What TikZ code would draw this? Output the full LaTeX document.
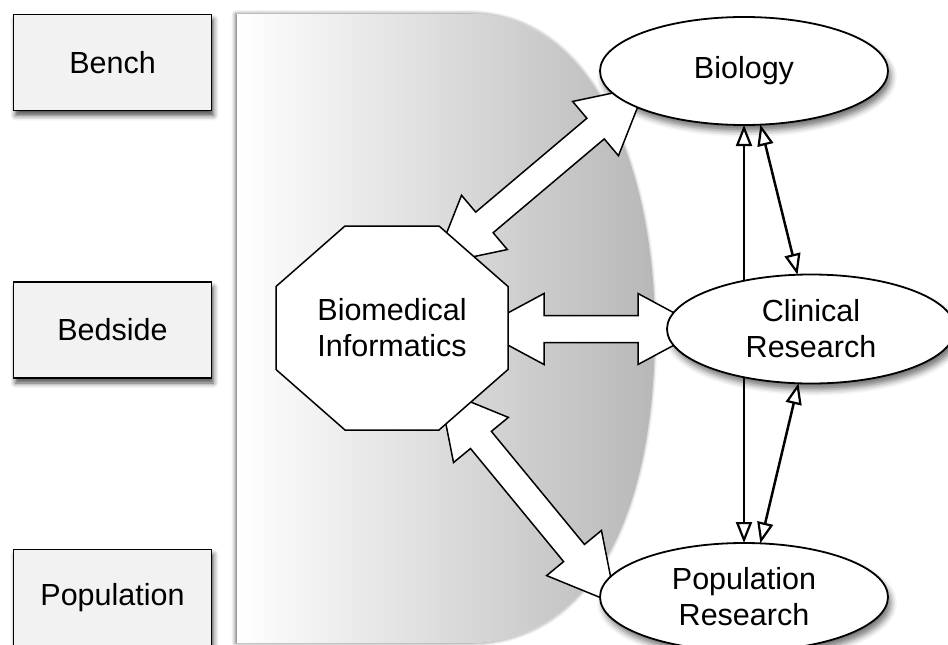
\documentclass[tikz,border=0pt]{standalone}
\usepackage{fontspec}
\setmainfont{Liberation Sans}
\usetikzlibrary{calc,shapes.geometric,arrows.meta,shadows.blur}

\pgfdeclarelayer{shade}
\pgfdeclarelayer{links}
\pgfsetlayers{shade,links,main}

% wide hollow double-headed arrow between two named points
\newcommand\fatarrow[2]{%
  \path let \p1=($(#2)-(#1)$) in
    \pgfextra{%
      \pgfmathsetmacro\fatang{atan2(\y1,\x1)}%
      \pgfmathsetmacro\fatlen{veclen(\x1,\y1)}%
      \xdef\fatang{\fatang}\xdef\fatlen{\fatlen}};
  \draw[bigarrow, shift={(#1)}, rotate=\fatang]
    (0,0) -- (66,35.5) -- (66,13.5) -- (\fatlen-66,13.5) -- (\fatlen-66,35.5)
    -- (\fatlen,0) -- (\fatlen-66,-35.5) -- (\fatlen-66,-13.5) -- (66,-13.5)
    -- (66,-35.5) -- cycle;
}

\tikzset{
  levelbox/.style={draw, line width=1.5pt, fill=black!5, minimum width=198pt,
    minimum height=96pt, inner sep=0pt,
    blur shadow={shadow xshift=2pt, shadow yshift=-5pt, shadow blur radius=5pt, shadow opacity=70}},
  oval/.style={ellipse, draw, line width=1.8pt, fill=white, inner sep=0pt,
    outer sep=0pt, align=center},
  ovalshadow/.style={fill=white,
    blur shadow={shadow xshift=3pt, shadow yshift=-6pt, shadow blur radius=6pt, shadow opacity=55}},
  bigarrow/.style={draw, line width=1.5pt, fill=white, line join=miter},
  openhead/.tip={Triangle[length=21pt, width=16pt, fill=white, line width=2.2pt]},
  thinlink/.style={line width=2.5pt},
  bandshadow/.style={fill=white,
    blur shadow={shadow xshift=-1.5pt, shadow yshift=0pt, shadow blur radius=4pt, shadow opacity=60}},
}

\begin{document}
\begin{tikzpicture}[x=1pt, y=-1pt, font=\fontsize{30.5}{36}\selectfont]
\useasboundingbox (0,0) rectangle (948,645);

% level labels
\node[levelbox] (bench)   at (112.5,62.5) {Bench};
\node[levelbox] (bedside) at (112.5,330)  {Bedside};
\node[levelbox] (popbox)  at (112.5,597.5) {Population};

% research domains
\node[oval, minimum width=288pt, minimum height=108pt] (bio)  at (744,71)  {Biology};
\node[oval, minimum width=288pt, minimum height=109pt] (clin) at (811,329) {Clinical\\Research};
\node[oval, minimum width=288pt, minimum height=108pt] (pop)  at (744,597) {Population\\Research};

\begin{pgfonlayer}{shade}
  % shaded translational band
  \path[bandshadow] (237,14) -- (470,14)
    .. controls (600,14) and (655,180) .. (655,330)
    .. controls (655,500) and (600,643) .. (467,643)
    -- (237,643) -- cycle;
  \shade[left color=white, right color=black!28] (237,14) -- (470,14)
    .. controls (600,14) and (655,180) .. (655,330)
    .. controls (655,500) and (600,643) .. (467,643)
    -- (237,643) -- cycle;
  % soft shadows under the domain ovals
  \path[ovalshadow] (bio.center)  ellipse [x radius=144pt, y radius=54pt];
  \path[ovalshadow] (clin.center) ellipse [x radius=144pt, y radius=54.5pt];
  \path[ovalshadow] (pop.center)  ellipse [x radius=144pt, y radius=54pt];
\end{pgfonlayer}

% informatics hub
\draw[line width=1.5pt, fill=white, line join=miter] (392,328) ++(-47,-102) -- ++(94,0)
  -- ++(69,60.5) -- ++(0,83) -- ++(-69,60.5) -- ++(-94,0) -- ++(-69,-60.5)
  -- ++(0,-83) -- cycle;
\node[align=center] (oct) at (392,328) {Biomedical\\Informatics};

\begin{pgfonlayer}{links}
  \coordinate (f1a) at ($(oct)+(42,-63)$);
  \coordinate (f1b) at ($(bio)+(-98,15)$);
  \coordinate (f2a) at ($(oct)+(86,1)$);
  \coordinate (f2b) at ($(clin)+(-107,0)$);
  \coordinate (f3a) at ($(oct)+(47,61)$);
  \coordinate (f3b) at ($(pop)+(-128,7)$);
  \fatarrow{f1a}{f1b}
  \fatarrow{f2a}{f2b}
  \fatarrow{f3a}{f3b}

  \draw[thinlink, -openhead] (clin.center -| bio.south) -- (bio.south);
  \draw[thinlink, openhead-openhead] (bio.-73.5) -- (clin.104);
  \draw[thinlink, -openhead] (clin.center -| pop.north) -- (pop.north);
  \draw[thinlink, openhead-openhead] (clin.-103) -- (pop.73.5);
\end{pgfonlayer}
\end{tikzpicture}
\end{document}
